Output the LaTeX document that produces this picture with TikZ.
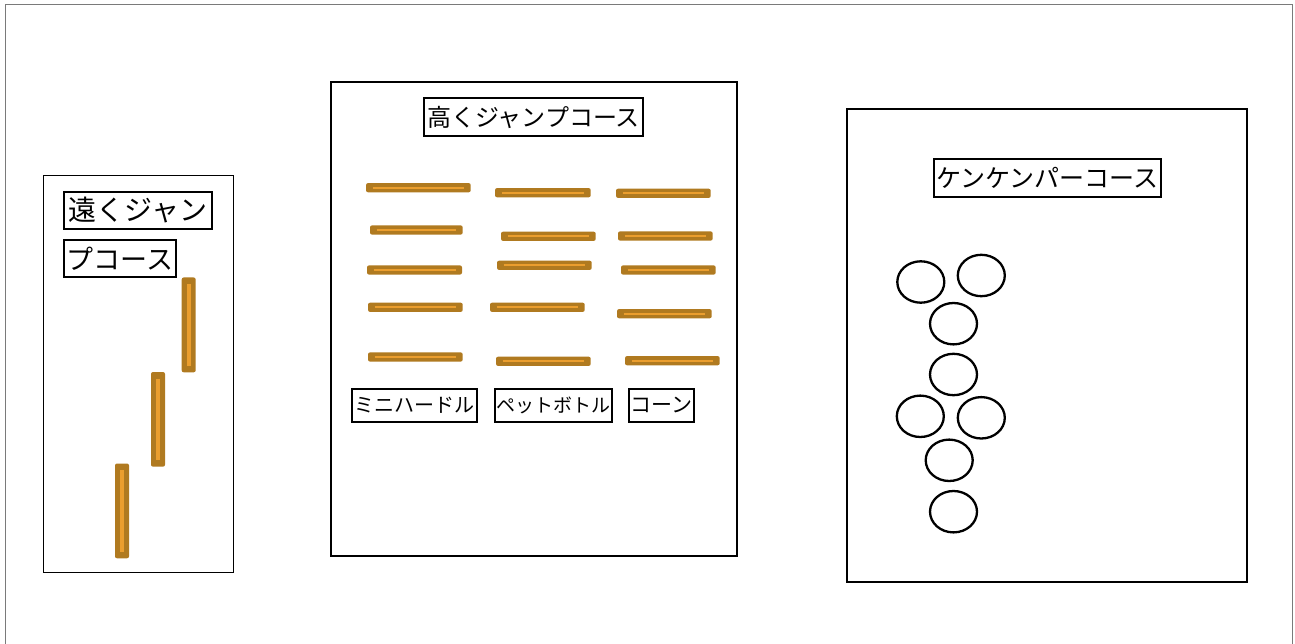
\documentclass[tikz,border=0pt]{standalone}
\usepackage{fontspec}
\newfontfamily\jp{Noto Sans CJK JP}
\definecolor{barbrown}{HTML}{B07A20}
\definecolor{barorange}{HTML}{EB9E2E}
\definecolor{framegray}{HTML}{7A7A7A}
\newcommand\hurdleH[3]{%
  \fill[barbrown, rounded corners=2pt] (#1,#3-4.6) rectangle (#2,#3+4.6);
  \draw[barorange, line width=2pt] (#1+6.5,#3) -- (#2-6.5,#3);}
\newcommand\hurdleV[3]{%
  \fill[barbrown, rounded corners=2pt] (#1-7,#2) rectangle (#1+7,#3);
  \draw[barorange, line width=4pt] (#1,#2+6.5) -- (#1,#3-6.5);}
\tikzset{
  lab/.style={draw=black, line width=2pt, inner sep=0pt, align=center},
  course/.style={draw=black, line width=2pt},
  hop/.style={draw=black, line width=2.3pt},
}
\begin{document}
\begin{tikzpicture}[x=1pt,y=-1pt]
\useasboundingbox (0,0) rectangle (1295,644);
\fill[white] (0,0) rectangle (1295,644);
\draw[framegray, line width=1pt] (5,650) -- (5,5) -- (1292.5,5) -- (1292.5,650);
% courses
\draw[black, line width=1pt] (43,176) rectangle (233,572);
\draw[course] (331,82) rectangle (737,556);
\draw[course] (847,109) rectangle (1247,582);
% left course labels
\node[lab, minimum width=148pt, minimum height=37pt, font=\jp\fontsize{28}{30}\selectfont] (t1) at (138,210.5) {遠くジャン};
\node[lab, minimum width=112pt, minimum height=37pt, font=\jp\fontsize{27}{30}\selectfont] (t2) at (120,258.5) {プコース};
% middle title
\node[lab, minimum width=219pt, minimum height=38pt, font=\jp\fontsize{24}{28}\selectfont] (t3) at (533.5,117) {高くジャンプコース};
% right title
\node[lab, minimum width=227pt, minimum height=38pt, font=\jp\fontsize{25}{28}\selectfont] (t4) at (1047.5,178) {ケンケンパーコース};
% middle labels
\node[lab, minimum width=125pt, minimum height=33pt, font=\jp\fontsize{20}{24}\selectfont] (l1) at (414.5,405.5) {ミニハードル};
\node[lab, minimum width=117pt, minimum height=33pt, font=\jp\fontsize{19}{24}\selectfont] (l2) at (553.5,405.5) {ペットボトル};
\node[lab, minimum width=65pt, minimum height=33pt, font=\jp\fontsize{21}{24}\selectfont] (l3) at (661.5,405.5) {コーン};
% vertical bars (left course)
\hurdleV{188.7}{277.5}{372.3}
\hurdleV{158}{372}{466.7}
\hurdleV{122}{463.5}{558.3}
% horizontal bars (middle course)
\hurdleH{366}{470.7}{187.7}
\hurdleH{495}{590.7}{192.7}
\hurdleH{616}{710.7}{193.3}
\hurdleH{370}{462.7}{230}
\hurdleH{501}{595.7}{236.3}
\hurdleH{618}{712.7}{236}
\hurdleH{367}{462}{270}
\hurdleH{497}{591.7}{265.3}
\hurdleH{621}{715.7}{270}
\hurdleH{368}{462.7}{307.3}
\hurdleH{490}{584.7}{307.3}
\hurdleH{617}{711.7}{313.7}
\hurdleH{368}{462.7}{357}
\hurdleH{496}{590.7}{361.3}
\hurdleH{625}{719.7}{360.7}
% hopscotch circles
\draw[hop] (920.8,282) ellipse [x radius=23.5pt, y radius=20.7pt];
\draw[hop] (981.3,275.5) ellipse [x radius=23.5pt, y radius=20.7pt];
\draw[hop] (953.5,323.7) ellipse [x radius=23.5pt, y radius=20.7pt];
\draw[hop] (953.5,374.5) ellipse [x radius=23.5pt, y radius=20.7pt];
\draw[hop] (920.3,416.3) ellipse [x radius=23.5pt, y radius=20.7pt];
\draw[hop] (981.3,417.8) ellipse [x radius=23.5pt, y radius=20.7pt];
\draw[hop] (949.2,460.3) ellipse [x radius=23.5pt, y radius=20.7pt];
\draw[hop] (953.5,511.7) ellipse [x radius=23.5pt, y radius=20.7pt];
\end{tikzpicture}
\end{document}
